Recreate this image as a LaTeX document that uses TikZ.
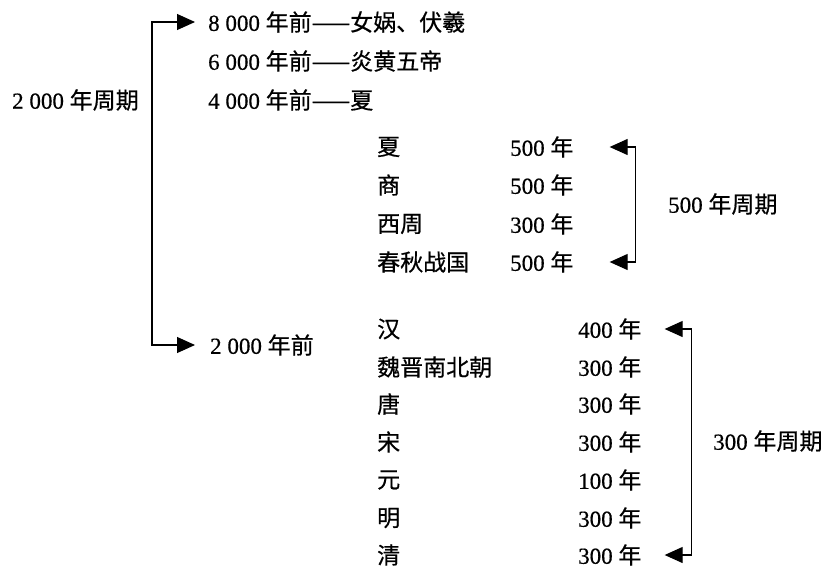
\documentclass[tikz,border=0pt]{standalone}
\usepackage{fontspec}
\setmainfont{Liberation Serif}[FakeBold=0.5]
\newfontfamily\cjk{Noto Sans CJK SC}[FakeBold=0.6]
\usetikzlibrary{arrows.meta}

\tikzset{
  txt/.style={anchor=west,inner sep=0pt,font=\fontsize{23}{27}\selectfont},
  brk/.style={line width=1.1pt,{Triangle[length=18pt,width=16pt]}-{Triangle[length=18pt,width=16pt]}}
}

\begin{document}
\begin{tikzpicture}[x=1pt,y=-1pt]
\useasboundingbox (0,0) rectangle (827,568);

% 2000 year cycle
\node[txt] (cycA) at (12,100) {2 000 {\cjk 年周期}};
\node[txt] (y8000) at (208,22) {8 000 {\cjk 年前——女娲、伏羲}};
\node[txt] (y6000) at (208,61) {6 000 {\cjk 年前——炎黄五帝}};
\node[txt] (y4000) at (208,100) {4 000 {\cjk 年前——夏}};
\node[txt] (y2000) at (210,345) {2 000 {\cjk 年前}};
\draw[brk,shorten <=13pt,shorten >=15pt] (y8000.west) -- ++(-56,0) |- (y2000.west);

% 500 year cycle
\foreach \y/\n/\dyn/\yr in {147/xia/夏/500,185/shang/商/500,224/xizhou/西周/300,262/chunqiu/春秋战国/500}{
  \node[txt] (d\n) at (377,\y) {\cjk \dyn};
  \node[txt] (p\n) at (510,\y) {\yr{} {\cjk 年}};
}
\draw[brk,shorten <=36pt,shorten >=36pt] (pxia.east) -- ++(62,0) |- (pchunqiu.east);
\node[txt] (cycB) at (668,204) {500 {\cjk 年周期}};

% 300 year cycle
\foreach \y/\n/\dyn/\yr in {329/han/汉/400,367/weijin/魏晋南北朝/300,404/tang/唐/300,442/song/宋/300,480/yuan/元/100,518/ming/明/300,555/qing/清/300}{
  \node[txt] (d\n) at (377,\y) {\cjk \dyn};
  \node[txt] (p\n) at (578,\y) {\yr{} {\cjk 年}};
}
\draw[brk,shorten <=23pt,shorten >=23pt] (phan.east) -- ++(50,0) |- (pqing.east);
\node[txt] (cycC) at (713,441) {300 {\cjk 年周期}};
\end{tikzpicture}
\end{document}
